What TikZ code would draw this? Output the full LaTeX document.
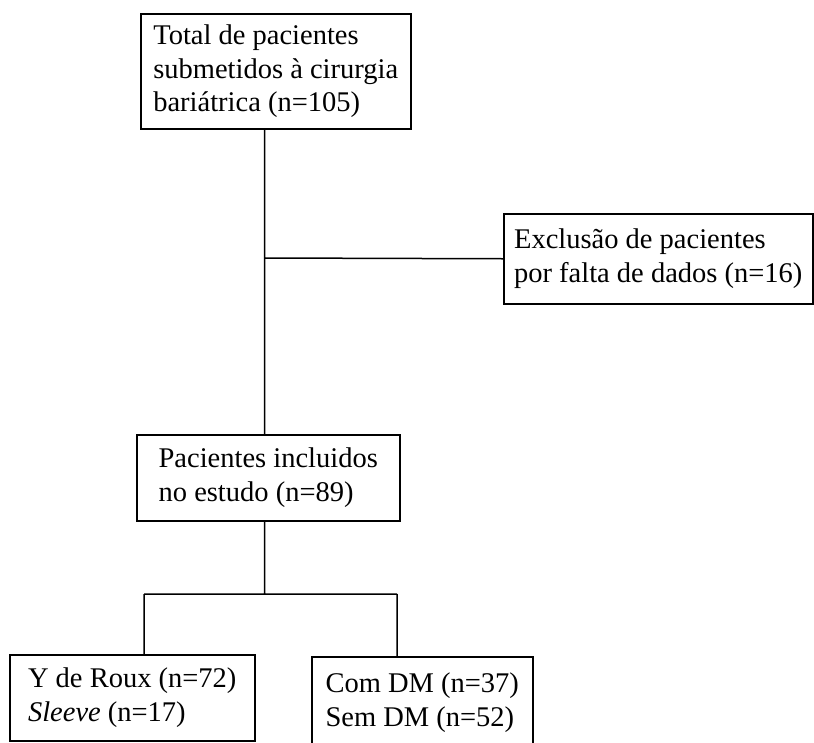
\documentclass[tikz,border=0pt]{standalone}
\usepackage{fontspec}
\setmainfont{Liberation Serif}
\begin{document}
\begin{tikzpicture}[x=1pt,y=-1pt,line width=1.5pt,
    caixa/.style={draw,anchor=north west,align=left,inner sep=0pt,
      font=\fontsize{28.5}{33.5}\selectfont}]
    \useasboundingbox (0,0) rectangle (814,742);
        \draw (140,13)  node[caixa,minimum width=270,minimum height=115] (total) {Total de pacientes\\submetidos à cirurgia\\bariátrica (n=105)};
        \draw (503,213) node[caixa,minimum width=309,minimum height=90] (exclusao) {Exclusão de pacientes\\por falta de dados (n=16)};
        \draw (136,434) node[caixa,minimum width=263,minimum height=86] (incluidos) {Pacientes incluidos\\no estudo (n=89)};
        \draw (9,654)   node[caixa,minimum width=245,minimum height=86] (tecnica) {Y de Roux (n=72)\\\textit{Sleeve} (n=17)};
        \draw (311,656) node[caixa,minimum width=221,minimum height=92] (dm) {Com DM (n=37)\\Sem DM (n=52)};
        \coordinate (j1) at (264.5,258);
        \coordinate (j2) at (264.5,594);
        \coordinate (r1) at (144,594);
        \coordinate (r2) at (397,594);
        \draw (total.south -| j1) -- (incluidos.north -| j1)
              (j1) -- (exclusao.west)
              (incluidos.south -| j2) -- (j2)
              (r1) -- (r2)
              (r1) -- (tecnica.north -| r1)
              (r2) -- (dm.north -| r2);
    \end{tikzpicture}
\end{document}
